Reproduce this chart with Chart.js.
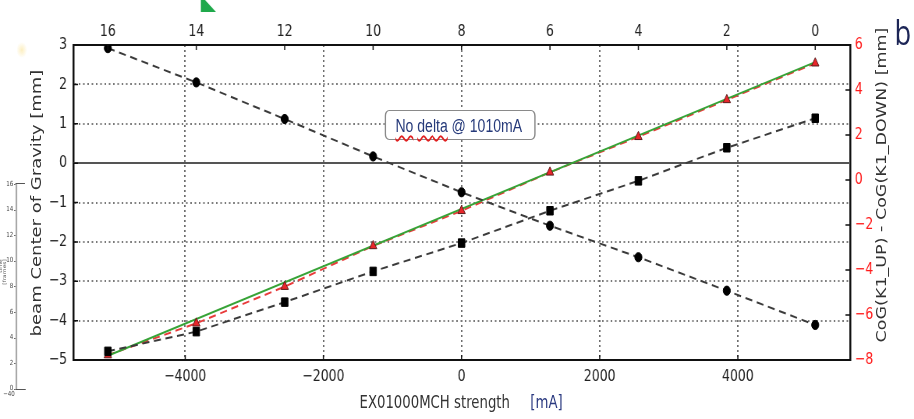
<!DOCTYPE html>
<html>
<head>
<meta charset="utf-8">
<script src="https://cdn.jsdelivr.net/npm/chart.js@4.4.0/dist/chart.umd.min.js"></script>
<style>
    html, body { margin: 0; padding: 0; background: #fff; overflow: hidden; width: 914px; height: 419px; }
    /* the whole figure is laid out 1172 wide and squeezed to 914 */
    #stage { position: relative; width: 1172px; height: 419px; transform: scaleX(0.7799); transform-origin: 0 0; }
    #chart { position: absolute; left: 0; top: 0; }
    .lbl { position: absolute; white-space: nowrap; font-family: "DejaVu Sans", sans-serif; color: #333; line-height: 1; }
    .rot { transform: translate(-50%, -50%) rotate(-90deg); }
    #ytitle { left: 46px; top: 203px; font-size: 18px; }
    #y2title { left: 1131px; top: 185px; font-size: 17.5px; }
    #xtitle { left: 461px; top: 394px; font-size: 17px; }
    #xunit { left: 680px; top: 394px; font-size: 17px; color: #2b3a80; }
    #note {
        position: absolute; left: 493px; top: 110px; width: 178px; height: 28px;
        border: 1.6px solid #8a8a8a; border-left-width: 2px; border-right-width: 2px; border-radius: 6px;
        background: #fff; box-sizing: content-box;
        font-family: "Liberation Sans", Arial, sans-serif; font-size: 18px; color: #263a7a;
        line-height: 31px; padding-left: 12px; white-space: nowrap;
    }
    #note u { text-decoration: underline wavy #e02020; text-decoration-thickness: 1.5px; text-underline-offset: 3px; }
    #panel { position: absolute; left: 1147px; top: 14px; font-family: "Open Sans", sans-serif; font-size: 35px; color: #1c2556; line-height: 1; }
    #flag { position: absolute; left: 257px; top: 0; width: 20px; height: 12px; background: #1fa94b;
        clip-path: polygon(0 0, 30% 0, 100% 100%, 0 100%); }
    #smudge { position: absolute; left: 21px; top: 42px; width: 14px; height: 16px;
        background: radial-gradient(ellipse at center, rgba(250,225,140,0.55), rgba(255,245,210,0) 70%); }
    #inset { position: absolute; left: 0; top: 0; }
    .iax { position: absolute; background: #a8a8a8; }
    .itk { position: absolute; font-family: "DejaVu Sans", sans-serif; font-size: 7px; color: #444; width: 17px; text-align: right; line-height: 1; }
</style>
</head>
<body>
<div id="stage">
    <canvas id="chart" width="1172" height="419" style="width:1172px;height:419px"></canvas>
    <div class="lbl rot" id="ytitle">beam Center of Gravity [mm]</div>
    <div class="lbl rot" id="y2title">CoG(K1_UP) - CoG(K1_DOWN) [mm]</div>
    <div class="lbl" id="xtitle">EX01000MCH strength</div>
    <div class="lbl" id="xunit">[mA]</div>
    <div id="note"><u>No</u> <u>delta</u> @ 1010mA</div>
    <div id="panel">b</div>
    <div id="flag"></div>
    <div id="smudge"></div>
    <div id="inset"></div>
</div>
<script>
// magnet current [mA] and top-axis step index
const strength = [-5120, -3840, -2560, -1280, 0, 1280, 2560, 3840, 5120];
const stepTicks = [16, 14, 12, 10, 8, 6, 4, 2, 0];
const mAPerStep = 640;

// centre of gravity readings [mm]
const cogUp = [2.92, 2.05, 1.12, 0.17, -0.74, -1.59, -2.39, -3.24, -4.11];
const cogDown = [-4.78, -4.28, -3.53, -2.75, -2.03, -1.21, -0.45, 0.39, 1.14];
const cogDiff = [-7.78, -6.37, -4.74, -2.93, -1.37, 0.34, 1.92, 3.56, 5.19];

// straight-line fit of the difference
const fitStrength = [-5120, 5120];
const fitDiff = [-7.81, 5.24];

// axis ticks
const xTicks = [-4000, -2000, 0, 2000, 4000];
const yTicks = [3, 2, 1, 0, -1, -2, -3, -4, -5];
const y2Ticks = [6, 4, 2, 0, -2, -4, -6, -8];
const insetLabels = [16, 14, 12, 10, 8, 6, 4, 2, 0];

const X_MIN = -5620;
const X_MAX = 5625;

function pairs(xs, ys) {
    return xs.map((x, i) => ({ x: x, y: ys[i] }));
}

function minus(v) {
    return v < 0 ? "\u2212" + Math.abs(v) : String(v);
}

function fixedTicks(list) {
    return scale => { scale.ticks = list.map(v => ({ value: v })); };
}

const tickFont = { family: "DejaVu Sans", size: 16 };

// solid line at y = 0, under the data
const zeroLine = {
    id: "zeroLine",
    beforeDatasetsDraw(chart) {
        const { ctx, chartArea: a, scales } = chart;
        const y = Math.round(scales.y.getPixelForValue(0));
        ctx.save();
        ctx.strokeStyle = "#555";
        ctx.lineWidth = 2;
        ctx.beginPath();
        ctx.moveTo(a.left, y);
        ctx.lineTo(a.right, y);
        ctx.stroke();
        ctx.restore();
    }
};

// small inward tick marks on all four spines
const innerTicks = {
    id: "innerTicks",
    afterDatasetsDraw(chart) {
        const { ctx, chartArea: a, scales } = chart;
        ctx.save();
        ctx.strokeStyle = "#111";
        ctx.lineWidth = 1.5;
        ctx.beginPath();
        scales.x.ticks.forEach(t => {
            const p = scales.x.getPixelForValue(t.value);
            ctx.moveTo(p, a.bottom); ctx.lineTo(p, a.bottom - 5);
        });
        scales.x2.ticks.forEach(t => {
            const p = scales.x2.getPixelForValue(t.value);
            ctx.moveTo(p, a.top); ctx.lineTo(p, a.top + 5);
        });
        scales.y.ticks.forEach(t => {
            const p = scales.y.getPixelForValue(t.value);
            ctx.moveTo(a.left, p); ctx.lineTo(a.left + 6, p);
        });
        scales.y2.ticks.forEach(t => {
            const p = scales.y2.getPixelForValue(t.value);
            ctx.moveTo(a.right, p); ctx.lineTo(a.right - 6, p);
        });
        ctx.stroke();
        ctx.restore();
    }
};

const dashed = [9, 6];

new Chart(document.getElementById("chart"), {
    type: "scatter",
    data: {
        datasets: [
            {
                data: pairs(strength, cogUp),
                yAxisID: "y",
                showLine: true,
                borderColor: "#3a3a3a",
                borderWidth: 2,
                borderDash: dashed,
                pointStyle: "circle",
                pointRadius: 4.6,
                pointBackgroundColor: "#000",
                pointBorderColor: "#000",
                pointBorderWidth: 1
            },
            {
                data: pairs(strength, cogDown),
                yAxisID: "y",
                showLine: true,
                borderColor: "#3a3a3a",
                borderWidth: 2,
                borderDash: dashed,
                pointStyle: "rect",
                pointRadius: 6,
                pointBackgroundColor: "#000",
                pointBorderColor: "#000",
                pointBorderWidth: 1
            },
            {
                // triangle markers sit above both lines
                data: pairs(strength, cogDiff),
                yAxisID: "y2",
                showLine: false,
                pointStyle: "triangle",
                pointRadius: 5.5,
                pointBackgroundColor: "#e8262a",
                pointBorderColor: "#5a1a1a",
                pointBorderWidth: 1
            },
            {
                data: pairs(fitStrength, fitDiff),
                yAxisID: "y2",
                showLine: true,
                borderColor: "#36a336",
                borderWidth: 2,
                pointRadius: 0
            },
            {
                data: pairs(strength, cogDiff),
                yAxisID: "y2",
                showLine: true,
                borderColor: "#e83a3a",
                borderWidth: 2,
                borderDash: dashed,
                pointRadius: 0
            }
        ]
    },
    options: {
        responsive: false,
        animation: false,
        layout: { padding: 0 },
        plugins: { legend: { display: false }, tooltip: { enabled: false } },
        scales: {
            x: {
                type: "linear",
                position: "bottom",
                min: X_MIN,
                max: X_MAX,
                afterBuildTicks: fixedTicks(xTicks),
                afterFit: s => { s.height = 59; },
                ticks: { font: tickFont, color: "#222", padding: 7, callback: minus },
                grid: { color: "#6e6e6e", lineWidth: 2, drawTicks: false },
                border: { color: "#111", width: 2, dash: [2, 3] }
            },
            x2: {
                type: "linear",
                position: "top",
                reverse: true,
                min: 8 - X_MAX / mAPerStep,
                max: 8 - X_MIN / mAPerStep,
                afterBuildTicks: fixedTicks(stepTicks),
                afterFit: s => { s.height = 45; },
                ticks: { font: tickFont, color: "#222", padding: 4 },
                grid: { display: false, drawTicks: false },
                border: { color: "#111", width: 2 }
            },
            y: {
                position: "left",
                min: -5,
                max: 3,
                afterBuildTicks: fixedTicks(yTicks),
                afterFit: s => { s.width = 94; },
                ticks: { font: tickFont, color: "#222", padding: 8, callback: minus },
                grid: { color: "#7a7a7a", lineWidth: 2, drawTicks: false },
                border: { color: "#111", width: 2.5, dash: [2, 3.5] }
            },
            y2: {
                position: "right",
                min: -8,
                max: 6,
                afterBuildTicks: fixedTicks(y2Ticks),
                afterFit: s => { s.width = 82; },
                ticks: { font: tickFont, color: "#ff1a1a", padding: 6, callback: minus },
                grid: { display: false, drawTicks: false },
                border: { color: "#111", width: 2.5 }
            }
        }
    },
    plugins: [zeroLine, innerTicks]
});

// small leftover axis strip on the far left
const inset = document.getElementById("inset");
function addBox(cls, css, text) {
    const el = document.createElement("div");
    el.className = cls;
    Object.assign(el.style, css);
    if (text !== undefined) el.textContent = text;
    inset.appendChild(el);
    return el;
}
addBox("iax", { left: "20px", top: "183px", width: "2.4px", height: "207px" });
addBox("iax", { left: "20px", top: "183px", width: "12px", height: "1.2px", background: "#555" });
addBox("iax", { left: "20px", top: "389px", width: "13px", height: "1.2px", background: "#555" });
insetLabels.forEach((v, i) => {
    const y = 184 + i * 25.6;
    addBox("itk", { left: "0px", top: (y - 3.5) + "px" }, String(v));
    addBox("iax", { left: "18px", top: y + "px", width: "2px", height: "1px", background: "#666" });
});
addBox("itk", { left: "2px", top: "391px" }, "\u221240");
const t = addBox("itk", { left: "3px", top: "272px", width: "auto", fontSize: "6px", color: "#555" }, "time [frames]");
t.style.transform = "translate(-50%, -50%) rotate(-90deg)";
</script>
</body>
</html>
